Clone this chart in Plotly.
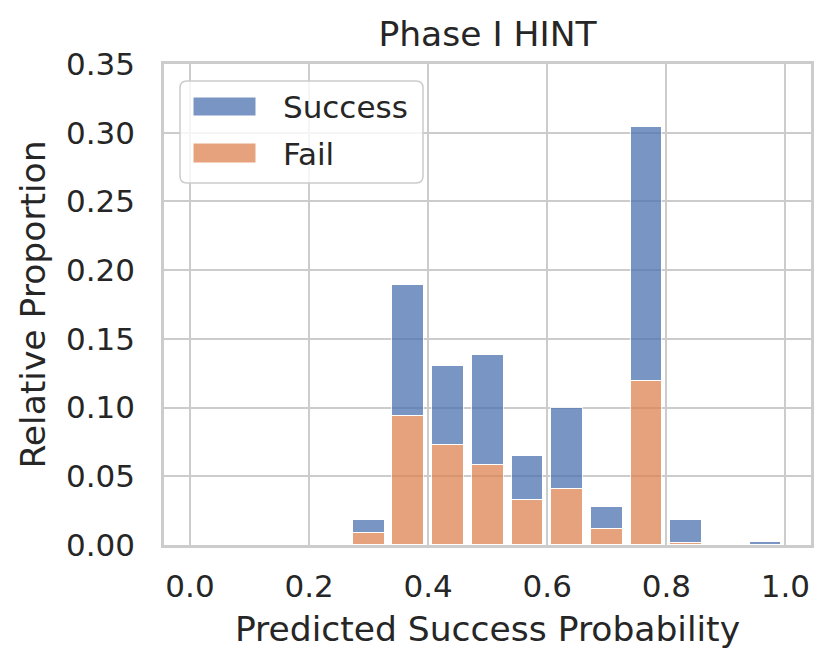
import plotly.graph_objects as go

# Histogram bins: 15 equal bins from 0 to 1 (values = relative proportion, stacked)
bin_edges_lo = [i / 15 for i in range(15)]
bin_width = 1 / 15
fail_vals = [0, 0, 0, 0, 0.0085, 0.0937, 0.073, 0.058, 0.033, 0.041, 0.0117, 0.119, 0.0017, 0, 0]
success_vals = [0, 0, 0, 0, 0.0100, 0.0953, 0.057, 0.080, 0.0315, 0.0588, 0.0163, 0.185, 0.0165, 0, 0.0022]
series_names = ["Success", "Fail"]
colors = {"Success": "#4C72B0", "Fail": "#DD8452"}
x_ticks = [0.0, 0.2, 0.4, 0.6, 0.8, 1.0]
y_ticks = [0.00, 0.05, 0.10, 0.15, 0.20, 0.25, 0.30, 0.35]

centers = [lo + bin_width / 2 for lo in bin_edges_lo]
shrink = 0.8

TXT = "#262626"
FONT = "DejaVu Sans"
GRID = "#cccccc"

fig = go.Figure()
fig.add_trace(go.Bar(
    x=centers, y=fail_vals, name="Fail", width=bin_width * shrink,
    marker=dict(color=colors["Fail"], opacity=0.75, line=dict(color="white", width=1.5)),
    showlegend=False,
))
fig.add_trace(go.Bar(
    x=centers, y=success_vals, name="Success", width=bin_width * shrink,
    marker=dict(color=colors["Success"], opacity=0.75, line=dict(color="white", width=1.5)),
    showlegend=False,
))

# page body has an 8px margin; work in screen coords and offset
OFF = 8
W, H = 831 - OFF, 670 - OFF
L, R, T, B = 164 - OFF, 811 - OFF, 64 - OFF, 545 - OFF
pw, ph = R - L, B - T


def px(x):
    return (x - OFF - L) / pw


def py(y):
    return (B - (y - OFF)) / ph


# Manual legend (matplotlib-style), rounded frame
x0, x1, y0, y1 = px(180), px(423), py(183), py(81)
rx, ry = 7 / pw, 7 / ph
path = (f"M {x0+rx},{y0} L {x1-rx},{y0} Q {x1},{y0} {x1},{y0+ry} "
        f"L {x1},{y1-ry} Q {x1},{y1} {x1-rx},{y1} L {x0+rx},{y1} "
        f"Q {x0},{y1} {x0},{y1-ry} L {x0},{y0+ry} Q {x0},{y0} {x0+rx},{y0} Z")
shapes = [dict(type="path", xref="paper", yref="paper", path=path,
               fillcolor="rgba(255,255,255,0.8)", line=dict(color=GRID, width=1.5), layer="above")]
annotations = []
legend_rows = [("Success", 97, 116, 106), ("Fail", 143, 163, 153)]
for name, ytop, ybot, ymid in legend_rows:
    shapes.append(dict(type="rect", xref="paper", yref="paper",
                       x0=px(193), x1=px(256), y0=py(ybot), y1=py(ytop),
                       fillcolor=colors[name], opacity=0.75,
                       line=dict(color="white", width=1), layer="above"))
    annotations.append(dict(xref="paper", yref="paper", x=px(281), y=py(ymid + 1),
                            xanchor="left", yanchor="middle", text=name, showarrow=False,
                            font=dict(family=FONT, size=31, color=TXT)))

fig.update_layout(
    width=W, height=H,
    margin=dict(l=L, r=W - R, t=T, b=H - B),
    paper_bgcolor="white", plot_bgcolor="white",
    barmode="stack", bargap=0,
    font=dict(family=FONT, color=TXT, size=31),
    title=dict(text="Phase I HINT", x=((L + R) / 2) / W, xanchor="center",
               y=1 - 25.5 / H, yanchor="middle", yref="container",
               font=dict(family=FONT, size=34.5, color=TXT)),
    shapes=shapes, annotations=annotations,
)
fig.update_xaxes(
    range=[-0.0437, 1.043], tickvals=x_ticks, ticktext=[f"{v:.1f}" for v in x_ticks],
    showgrid=True, gridcolor=GRID, gridwidth=2, zeroline=False,
    showline=True, mirror=True, linecolor=GRID, linewidth=2.5,
    ticks="", ticklabelstandoff=12, tickfont=dict(family=FONT, size=31, color=TXT),
    title=dict(text="Predicted Success Probability", standoff=14,
               font=dict(family=FONT, size=34.5, color=TXT)),
)
fig.update_yaxes(
    range=[0, 0.35], tickvals=y_ticks, ticktext=[f"{v:.2f}" for v in y_ticks],
    showgrid=True, gridcolor=GRID, gridwidth=2, zeroline=False,
    showline=True, mirror=True, linecolor=GRID, linewidth=2.5,
    ticks="", ticklabelstandoff=20, tickfont=dict(family=FONT, size=31, color=TXT),
    title=dict(text="Relative Proportion", standoff=10,
               font=dict(family=FONT, size=34.5, color=TXT)),
)

fig.write_html("out.html")
